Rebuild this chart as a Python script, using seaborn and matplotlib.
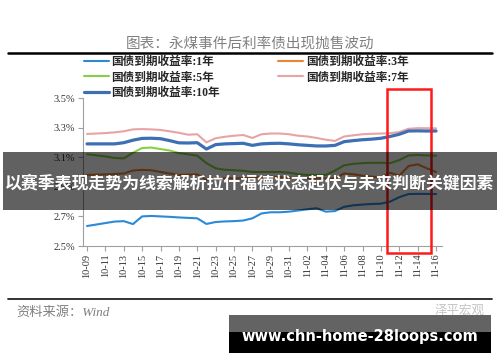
import numpy as np
import pandas as pd
import seaborn as sns
import matplotlib.pyplot as plt
from matplotlib.patches import Rectangle
from matplotlib.lines import Line2D

# calendar days 10-09 .. 11-16
dates = pd.date_range("2020-10-09", "2020-11-16").strftime("%m-%d").tolist()
days = list(range(len(dates)))

y_1 = [2.635, 2.645, 2.655, 2.665, 2.668, 2.648, 2.700, 2.703, 2.700, 2.697,
       2.693, 2.690, 2.687, 2.649, 2.662, 2.666, 2.668, 2.672, 2.687, 2.720,
       2.728, 2.728, 2.732, 2.740, 2.748, 2.755, 2.732, 2.736, 2.765, 2.775,
       2.780, 2.784, 2.786, 2.800, 2.830, 2.851, 2.852, 2.852, 2.851]
y_3 = [2.980, 2.982, 2.984, 2.986, 2.990, 3.010, 3.014, 3.012, 3.000, 2.990,
       2.980, 2.982, 2.984, 2.946, 2.960, 2.958, 2.957, 2.957, 2.960, 2.966,
       2.968, 2.965, 2.962, 2.958, 2.957, 2.957, 2.957, 2.957, 2.990, 2.985,
       2.975, 2.968, 2.964, 2.995, 2.975, 3.040, 3.052, 3.025, 3.000]
y_5 = [3.120, 3.113, 3.105, 3.095, 3.092, 3.130, 3.162, 3.165, 3.155, 3.145,
       3.128, 3.120, 3.110, 3.060, 3.025, 3.015, 3.012, 3.008, 3.000, 3.000,
       3.000, 3.000, 2.995, 2.985, 2.980, 2.980, 2.980, 3.010, 3.045, 3.055,
       3.060, 3.062, 3.062, 3.060, 3.080, 3.112, 3.115, 3.112, 3.110]
y_7 = [3.257, 3.260, 3.263, 3.268, 3.275, 3.288, 3.290, 3.288, 3.284, 3.275,
       3.265, 3.252, 3.255, 3.200, 3.228, 3.238, 3.245, 3.250, 3.230, 3.255,
       3.260, 3.260, 3.255, 3.245, 3.240, 3.230, 3.218, 3.210, 3.240, 3.248,
       3.255, 3.258, 3.260, 3.262, 3.270, 3.292, 3.296, 3.296, 3.295]
y_10 = [3.190, 3.190, 3.190, 3.190, 3.198, 3.215, 3.227, 3.228, 3.225, 3.212,
        3.197, 3.196, 3.198, 3.155, 3.185, 3.190, 3.192, 3.194, 3.180, 3.190,
        3.193, 3.194, 3.190, 3.184, 3.180, 3.176, 3.176, 3.180, 3.205, 3.212,
        3.218, 3.222, 3.228, 3.240, 3.255, 3.277, 3.278, 3.277, 3.277]

names = ["国债到期收益率:1年", "国债到期收益率:3年", "国债到期收益率:5年",
         "国债到期收益率:7年", "国债到期收益率:10年"]
series = [y_1, y_3, y_5, y_7, y_10]
colors = ["#2a8ad8", "#ec8430", "#88cf44", "#e8a4a4", "#3d6fb5"]
widths = [1.5, 1.5, 1.5, 1.5, 2.3]

sns.set_style("white")
plt.rcParams['font.family'] = ['Liberation Serif', 'Noto Sans CJK SC', 'DejaVu Sans']

W, H = 500, 362
def fx(x):
    return x / W
def fy(y):
    return 1 - y / H

fig = plt.figure(figsize=(5, 3.62), dpi=100)
ax = fig.add_axes([fx(83), fy(246), 359 / W, 148 / H])

for name, vals, c, lw in zip(names, series, colors, widths):
    sns.lineplot(x=days, y=vals, color=c, lw=lw, ax=ax, label=name, legend=False)

ax.set_xlim(-0.44, 38.65)
ax.set_ylim(2.5, 3.5)
yt = np.arange(2.5, 3.51, 0.2)
ax.set_yticks(yt)
ax.set_yticklabels([f"{v:.1f}%" for v in yt])
ax.set_xticks(days[::2])
ax.set_xticklabels(dates[::2], rotation=90)
for s in ["top", "right"]:
    ax.spines[s].set_visible(False)
for s in ["left", "bottom"]:
    ax.spines[s].set_color("#a0a0a0")
    ax.spines[s].set_linewidth(0.8)
ax.tick_params(axis="both", direction="out", length=3.5, width=0.8, color="#a0a0a0",
               labelsize=7.5, labelcolor="#333333", left=True, bottom=True, pad=2)
ax.set_xlabel("")
ax.set_ylabel("")

# red highlight box
ax.add_patch(Rectangle((32.67, 2.453), 4.79, 1.108, fill=False, ec="#ff1a1a",
                       lw=1.8, clip_on=False, zorder=5))

# legend (column-wise fill)
h, l = ax.get_legend_handles_labels()
order = [0, 2, 4, 1, 3]
fig.legend([h[i] for i in order], [l[i] for i in order], ncol=2, loc="upper left",
           bbox_to_anchor=(fx(84), fy(56)), frameon=False, borderaxespad=0, borderpad=0,
           handlelength=2.1, handletextpad=0.25, columnspacing=5.0, labelspacing=0.3,
           prop={"size": 8.4, "weight": "bold"})

# title and rules
fig.text(fx(250), fy(43.5), "图表：永煤事件后利率债出现抛售波动", color="#808080",
         fontsize=10.5, ha="center", va="center", family=["Noto Sans CJK SC"])
fig.add_artist(Line2D([fx(8), fx(492)], [fy(52.5)] * 2, color="black", lw=1.8))
fig.add_artist(Line2D([fx(8), fx(492)], [fy(299)] * 2, color="#222222", lw=1.3))
fig.text(fx(16), fy(313), "资料来源：Wind", color="#808080", fontsize=9.5,
         style="italic", va="center")
fig.text(fx(460), fy(310), "泽平宏观", color="#c4c4c4", fontsize=9, ha="center",
         va="center", family=["Noto Sans CJK SC"])

# overlay banners
fig.add_artist(Rectangle((fx(3), fy(210)), 494 / W, 58 / H, transform=fig.transFigure,
                         fc="black", ec="none", alpha=0.62, zorder=10))
fig.text(fx(250), fy(183), "以赛季表现走势为线索解析拉什福德状态起伏与未来判断关键因素",
         color="white", fontsize=12.2, fontweight="bold", ha="center", va="center",
         family=["Noto Sans CJK SC"], zorder=11)
fig.add_artist(Rectangle((fx(229), fy(332)), 262 / W, 17 / H, transform=fig.transFigure,
                         fc="#636363", ec="none", zorder=10))
fig.add_artist(Rectangle((fx(229), fy(353)), 262 / W, 21 / H, transform=fig.transFigure,
                         fc="black", ec="none", zorder=10))
fig.text(fx(360), fy(336.5), "www.chn-home-28loops.com", color="white", fontsize=10.5,
         fontweight="bold", ha="center", va="center", family=["DejaVu Sans"], zorder=11)

fig.savefig("out.png", dpi=100)
